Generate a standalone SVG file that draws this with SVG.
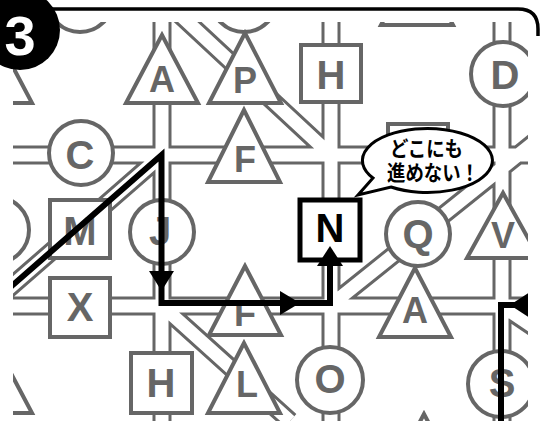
<svg xmlns="http://www.w3.org/2000/svg" width="543" height="421" viewBox="0 0 543 421">
<style>
.rg{fill:none;stroke:#666;stroke-width:19}
.rw{fill:none;stroke:#fff;stroke-width:13}
.nd{fill:#fff;stroke:#666;stroke-width:4}
.lb{font-family:"Liberation Sans",Arial,sans-serif;font-weight:bold;fill:#666;text-anchor:middle;font-size:40px}
.tl{font-size:36px}
.bp{fill:none;stroke:#000;stroke-width:6}
.ah{fill:#000}
.jp{font-family:"Noto Sans CJK JP","Noto Sans CJK SC",sans-serif;font-weight:bold;font-size:21px;fill:#000}
</style>
<defs>
<clipPath id="clip"><rect x="13" y="22" width="515" height="399"/></clipPath>
<path id="roadnet" d="M162 0V421 M331 0V421 M502 0V421 M0 155H543 M0 306H543 M164 0L335 159 M331 305L543 135 M162 155L-10 305 M160 304L290 421 M502 306L560 345"/>
</defs>
<rect width="543" height="421" fill="#fff"/>
<g clip-path="url(#clip)">
<g id="connectors">
<use href="#roadnet" class="rg"/>
<use href="#roadnet" class="rw"/>
</g>
<g id="node-top-circle-1"><circle class="nd" cx="80" cy="-1" r="33"/></g>
<g id="node-top-circle-2"><circle class="nd" cx="244" cy="-1" r="33"/></g>
<g id="node-top-triangle"><polygon class="nd" points="417,-43 381,25 453,25"/></g>
<g id="node-left-triangle-1"><polygon class="nd" points="-4,35 -40,103 32,103"/></g>
<g id="node-A1"><polygon class="nd" points="162,35 126,103 198,103"/><text class="lb tl" x="162" y="92">A</text></g>
<g id="node-P"><polygon class="nd" points="245,33 209,103 281,103"/><text class="lb tl" x="245" y="93">P</text></g>
<g id="node-H1"><rect class="nd" x="301" y="45" width="60" height="57"/><text class="lb" x="331" y="89">H</text></g>
<g id="node-D"><circle class="nd" cx="503" cy="74" r="32"/><text class="lb" x="505" y="89">D</text></g>
<g id="node-C"><circle class="nd" cx="81" cy="153" r="32"/><text class="lb" x="80" y="169">C</text></g>
<g id="node-F1"><polygon class="nd" points="244,110 208,182 280,182"/><text class="lb tl" x="245" y="172">F</text></g>
<g id="node-hidden-square"><rect class="nd" x="388" y="124" width="60" height="60"/></g>
<g id="node-left-circle"><circle class="nd" cx="-4" cy="230" r="33"/></g>
<g id="node-M"><rect class="nd" x="50" y="200" width="60" height="58"/><text class="lb" x="80" y="245">M</text></g>
<g id="node-J"><circle class="nd" cx="162" cy="232" r="32"/><text class="lb" x="160" y="245">J</text></g>
<g id="node-Q"><circle class="nd" cx="418" cy="234" r="32"/><text class="lb" x="418" y="248">Q</text></g>
<g id="node-V"><polygon class="nd" points="503,193 467,258 539,258"/><text class="lb tl" x="503" y="248">V</text></g>
<g id="node-X"><rect class="nd" x="50" y="278" width="60" height="59"/><text class="lb" x="80" y="321">X</text></g>
<g id="node-F2"><polygon class="nd" points="245,266 209,335 281,335"/><text class="lb tl" x="245" y="326">F</text></g>
<g id="node-A2"><polygon class="nd" points="415,268 379,337 451,337"/><text class="lb tl" x="415" y="323">A</text></g>
<g id="node-left-triangle-2"><polygon class="nd" points="-4,345 -40,413 32,413"/></g>
<g id="node-H2"><rect class="nd" x="131" y="353" width="61" height="60"/><text class="lb" x="161" y="397">H</text></g>
<g id="node-L"><polygon class="nd" points="244,343 208,413 280,413"/><text class="lb tl" x="247" y="397">L</text></g>
<g id="node-O"><circle class="nd" cx="330" cy="380" r="33"/><text class="lb" x="330" y="393">O</text></g>
<g id="node-S"><circle class="nd" cx="501" cy="384" r="33"/><text class="lb" x="502" y="397">S</text></g>
<g id="node-bottom-triangle"><polygon class="nd" points="424,414 388,482 460,482"/></g>
<g id="node-N"><rect x="300" y="200" width="60" height="60" fill="#fff" stroke="#000" stroke-width="5"/><text class="lb" x="330" y="242" style="fill:#000">N</text></g>
<g id="paths">
<path class="bp" d="M-10 305L161.5 155L161.5 303L330 303L330 262"/>
<polygon class="ah" points="161.5,291 149,271 174,271"/>
<polygon class="ah" points="300,303 280,291 280,315"/>
<polygon class="ah" points="330,246 317,266 343,266"/>
<path class="bp" d="M540 305L501 305L501 430"/>
<polygon class="ah" points="510,305 530,292 530,318"/>
</g>
<g id="bubble">
<path d="M373 178A65 32 0 1 1 391 187L358 195Z" fill="#fff" stroke="#000" stroke-width="3" stroke-linejoin="miter"/>
<text class="jp" x="390" y="156" textLength="73" lengthAdjust="spacingAndGlyphs">どこにも</text>
<text class="jp" x="387" y="180" textLength="92" lengthAdjust="spacingAndGlyphs">進めない！</text>
</g>
</g>
<g id="frame">
<path d="M40 9H518Q538 9 538 29V36" fill="none" stroke="#000" stroke-width="3.5"/>
</g>
<g id="badge">
<circle cx="20" cy="30" r="40" fill="#000"/>
<text x="20" y="55" font-family="Liberation Sans, Arial, sans-serif" font-weight="bold" font-size="56" fill="#fff" text-anchor="middle">3</text>
</g>
</svg>
